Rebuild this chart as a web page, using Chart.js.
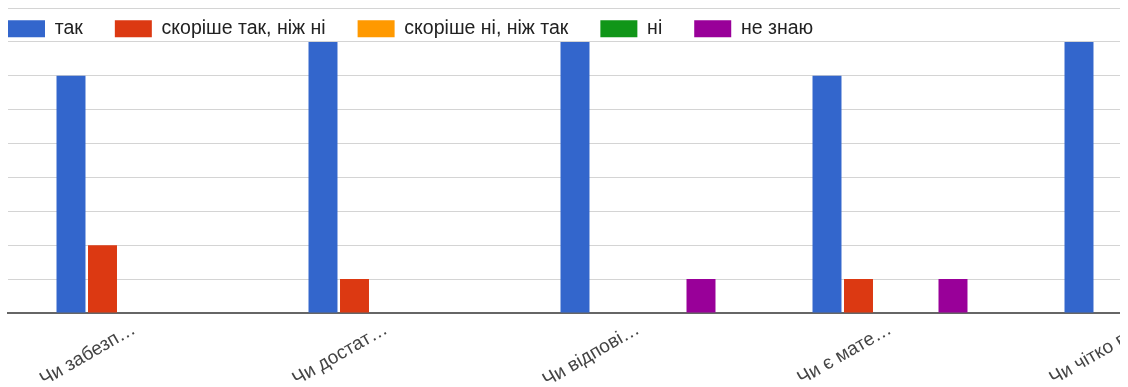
<!DOCTYPE html>
<html>
<head>
<meta charset="utf-8">
<script src="https://cdn.jsdelivr.net/npm/chart.js@4"></script>
<style>
  body { margin: 0; background: #fff; overflow: hidden; }
  #clip { width: 1120px; height: 387px; overflow: hidden; }
  #wrap { width: 1276px; height: 387px; position: relative; }
</style>
</head>
<body>
<div id="clip"><div id="wrap"><canvas id="chart"></canvas></div></div>
<script>
const categories = ['Чи забезп…', 'Чи достат…', 'Чи відпові…', 'Чи є мате…', 'Чи чітко в…'];
const seriesNames = ['так', 'скоріше так, ніж ні', 'скоріше ні, ніж так', 'ні', 'не знаю'];
const yes = [7, 8, 8, 7, 8];
const ratherYes = [2, 1, 0, 1, 0];
const ratherNo = [0, 0, 0, 0, 0];
const no = [0, 0, 0, 0, 0];
const dontKnow = [0, 0, 1, 1, 0];
const colors = ['#3366cc', '#dc3912', '#ff9900', '#109618', '#990099'];

const values = [yes, ratherYes, ratherNo, no, dontKnow];
const legendPad = 32;

// legend is drawn over the top band of the plot, so it takes no room
const legendOverlay = {
    id: 'legendOverlay',
    beforeLayout(chart) {
        const lg = chart.legend;
        if (lg && !lg._overlay) {
            const fit = lg.fit;
            lg.fit = function() { fit.call(this); this.height = 0; };
            lg._overlay = true;
        }
    },
    afterLayout(chart) {
        const lg = chart.legend, area = chart.chartArea;
        lg.left = area.left - legendPad;
        lg.right = lg.left + 1200;
        lg.top = area.top + 11 - legendPad;
        lg.bottom = lg.top + 80;
        lg.width = 1200;
        lg.height = 80;
    }
};

new Chart(document.getElementById('chart'), {
    type: 'bar',
    data: {
        labels: categories,
        datasets: seriesNames.map((name, i) => ({
            label: name,
            data: values[i],
            backgroundColor: colors[i],
            barPercentage: 0.92,
            categoryPercentage: 0.625
        }))
    },
    options: {
        responsive: true,
        maintainAspectRatio: false,
        animation: false,
        layout: { padding: { left: 8, right: 8, top: 8 } },
        scales: {
            x: {
                grid: { display: false },
                border: { display: true, color: '#666', width: 2 },
                ticks: {
                    autoSkip: false,
                    maxRotation: 30,
                    minRotation: 30,
                    padding: -3,
                    color: '#444',
                    font: { family: 'Liberation Sans', size: 19 }
                },
                afterFit: s => { s.height = 74; }
            },
            y: {
                min: 0,
                max: 9,
                ticks: { display: false, stepSize: 1 },
                border: { display: false },
                grid: { color: '#d4d4d4', drawTicks: false },
                afterFit: s => { s.width = 0; }
            }
        },
        plugins: {
            tooltip: { enabled: false },
            legend: {
                position: 'top',
                align: 'start',
                labels: {
                    boxWidth: 37,
                    boxHeight: 17,
                    padding: legendPad,
                    color: '#222',
                    font: { family: 'Liberation Sans', size: 19.5 }
                }
            }
        }
    },
    plugins: [legendOverlay]
});
</script>
</body>
</html>
